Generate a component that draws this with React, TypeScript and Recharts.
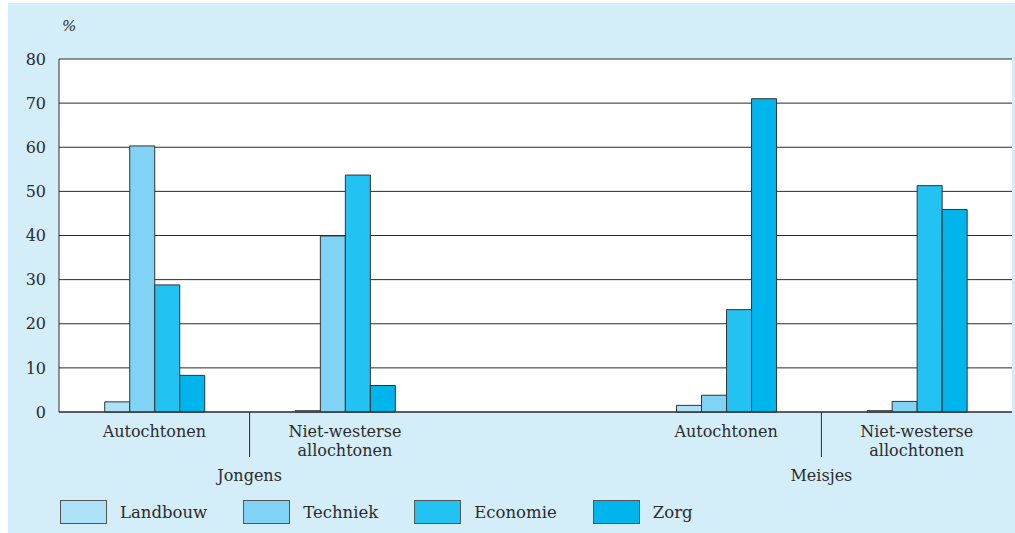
import React from 'react';
import { BarChart, Bar, XAxis, YAxis, CartesianGrid } from 'recharts';

// categories along the x axis (middle slot is an empty spacer between the groups)
const CATEGORIES = ['j-aut', 'j-nw', 'gap', 'm-aut', 'm-nw'];
const TICK_LINES: string[][] = [
  ['Autochtonen'],
  ['Niet-westerse', 'allochtonen'],
  [],
  ['Autochtonen'],
  ['Niet-westerse', 'allochtonen'],
];
// group label drawn under the separator that follows this category
const GROUP_AFTER = ['Jongens', '', '', 'Meisjes', ''];

const LANDBOUW = [2.3, 0.3, null, 1.5, 0.3];
const TECHNIEK = [60.3, 39.9, null, 3.8, 2.4];
const ECONOMIE = [28.8, 53.7, null, 23.2, 51.3];
const ZORG = [8.3, 6.0, null, 71.0, 45.9];

const Y_TICKS = [0, 10, 20, 30, 40, 50, 60, 70, 80];

const SERIES = [
  { key: 'Landbouw', color: '#aee2f8' },
  { key: 'Techniek', color: '#81d3f5' },
  { key: 'Economie', color: '#22c3f2' },
  { key: 'Zorg', color: '#00b5ec' },
];

const FONT = '"DejaVu Serif", serif';
const INK = '#2b2b2b';

const data = CATEGORIES.map((c, i) => ({
  cat: c,
  Landbouw: LANDBOUW[i],
  Techniek: TECHNIEK[i],
  Economie: ECONOMIE[i],
  Zorg: ZORG[i],
}));

const CategoryTick = (props: any) => {
  const { x, y, payload, width } = props;
  const idx = payload.index ?? CATEGORIES.indexOf(payload.value);
  const lines = TICK_LINES[idx] || [];
  const half = (width || 953) / CATEGORIES.length / 2;
  const group = GROUP_AFTER[idx];
  return (
    <g>
      {lines.map((l, k) => (
        <text
          key={k}
          x={x}
          y={y + 25 + k * 19}
          textAnchor="middle"
          fontFamily={FONT}
          fontSize={16}
          fill={INK}
        >
          {l}
        </text>
      ))}
      {group && (
        <>
          <line x1={x + half} x2={x + half} y1={y} y2={y + 45} stroke={INK} strokeWidth={1} />
          <text
            x={x + half}
            y={y + 69}
            textAnchor="middle"
            fontFamily={FONT}
            fontSize={16}
            fill={INK}
          >
            {group}
          </text>
        </>
      )}
    </g>
  );
};

const LegendBox = () => (
  <div
    style={{
      position: 'absolute',
      left: 52,
      top: 497,
      display: 'flex',
      alignItems: 'center',
      fontFamily: FONT,
      fontSize: 16.5,
      color: INK,
    }}
  >
    {SERIES.map((s) => (
      <div key={s.key} style={{ display: 'flex', alignItems: 'center', marginRight: 36 }}>
        <div
          style={{
            width: 45,
            height: 22,
            background: s.color,
            border: '1px solid #555',
            marginRight: 13,
          }}
        />
        <span>{s.key}</span>
      </div>
    ))}
  </div>
);

export default function App() {
  return (
    <div
      style={{
        position: 'absolute',
        left: 8,
        top: 3,
        width: 1007,
        height: 530,
        background: '#d3edf9',
      }}
    >
      <div
        style={{
          position: 'absolute',
          left: 54,
          top: 14,
          fontFamily: FONT,
          fontStyle: 'italic',
          fontSize: 15,
          color: INK,
        }}
      >
        %
      </div>
      <BarChart
        width={1007}
        height={530}
        data={data}
        margin={{ top: 56, right: 3, bottom: 91, left: 0 }}
        barGap={0}
        barCategoryGap="24%"
      >
        <CartesianGrid vertical={false} stroke={INK} strokeOpacity={1} fill="#ffffff" fillOpacity={1} />
        <XAxis
          dataKey="cat"
          height={30}
          axisLine={{ stroke: INK }}
          tickLine={false}
          tickSize={0}
          tickMargin={0}
          interval={0}
          tick={<CategoryTick />}
        />
        <YAxis
          width={51}
          domain={[0, 80]}
          ticks={Y_TICKS}
          axisLine={{ stroke: INK }}
          tickLine={false}
          tickSize={0}
          tickMargin={13}
          tick={{ fontFamily: FONT, fontSize: 16, fill: INK }}
        />
        <YAxis
          yAxisId="frame"
          orientation="right"
          width={0}
          domain={[0, 80]}
          axisLine={{ stroke: INK }}
          tick={false}
          tickLine={false}
        />
        {SERIES.map((s) => (
          <Bar
            key={s.key}
            dataKey={s.key}
            fill={s.color}
            stroke="#333"
            strokeWidth={1}
            isAnimationActive={false}
          />
        ))}
      </BarChart>
      <LegendBox />
    </div>
  );
}
